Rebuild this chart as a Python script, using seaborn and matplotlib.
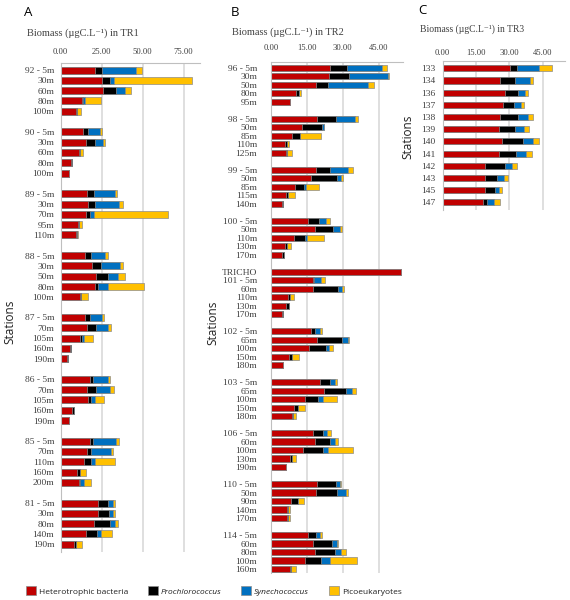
import numpy as np
import pandas as pd
import matplotlib
matplotlib.use("Agg")
import matplotlib.pyplot as plt
import seaborn as sns
from matplotlib.patches import Patch
from matplotlib.ticker import FormatStrFormatter, FixedLocator

# ---------------- DATA ----------------
# Panel A (TR1): None marks an empty row between stations
a_labels = ["92 - 5m", "30m", "60m", "80m", "100m", None,
            "90 - 5m", "30m", "60m", "80m", "100m", None,
            "89 - 5m", "30m", "70m", "95m", "110m", None,
            "88 - 5m", "30m", "50m", "80m", "100m", None,
            "87 - 5m", "70m", "105m", "160m", "190m", None,
            "86 - 5m", "70m", "105m", "160m", "190m", None,
            "85 - 5m", "70m", "110m", "160m", "200m", None,
            "81 - 5m", "30m", "80m", "140m", "190m"]
a_het = [21.3, 25.0, 25.6, 12.8, 9.3,
         13.7, 15.7, 11.0, 6.5, 5.1,
         16.3, 16.9, 15.5, 10.4, 9.6,
         15.1, 19.1, 21.8, 21.3, 11.8,
         15.2, 16.3, 11.6, 5.5, 4.1,
         18.1, 16.3, 16.9, 7.3, 5.1,
         18.1, 15.9, 14.6, 10.2, 11.0,
         22.6, 22.6, 20.5, 15.7, 8.4]
a_pro = [3.9, 5.3, 8.4, 0.8, 0.5,
         2.8, 5.5, 0.6, 0.4, 0.3,
         3.9, 4.1, 2.6, 0.8, 0.6,
         3.6, 5.7, 7.3, 1.7, 0.6,
         2.9, 5.5, 1.6, 0.6, 0.2,
         1.7, 5.5, 1.8, 1.1, 0.1,
         1.8, 2.8, 3.9, 1.8, 1.0,
         6.5, 6.7, 9.6, 6.7, 1.2]
a_syn = [20.9, 2.4, 5.6, 1.2, 0.0,
         7.7, 4.6, 0.0, 0.0, 0.0,
         12.8, 14.4, 2.3, 0.0, 0.0,
         8.6, 11.6, 6.1, 5.7, 0.0,
         7.1, 7.1, 1.1, 0.0, 0.0,
         9.1, 8.3, 2.3, 0.0, 0.0,
         14.1, 11.8, 2.7, 0.0, 2.3,
         2.6, 2.8, 3.3, 2.4, 0.0]
a_pico = [3.5, 47.6, 3.3, 9.6, 2.6,
          1.0, 1.6, 2.1, 0.0, 0.0,
          1.6, 2.4, 45.3, 1.8, 0.3,
          1.4, 1.8, 4.4, 22.2, 4.3,
          1.3, 1.8, 5.2, 0.0, 0.0,
          1.4, 2.6, 5.8, 0.0, 0.0,
          1.8, 1.2, 12.2, 3.5, 4.2,
          1.8, 1.1, 1.6, 6.5, 3.6]

# Panel B (TR2)
b_labels = ["96 - 5m", "30m", "50m", "80m", "95m", None,
            "98 - 5m", "50m", "85m", "110m", "125m", None,
            "99 - 5m", "50m", "85m", "115m", "140m", None,
            "100 - 5m", "50m", "110m", "130m", "170m", None,
            "TRICHO",
            "101 - 5m", "60m", "110m", "130m", "170m", None,
            "102 - 5m", "65m", "100m", "150m", "180m", None,
            "103 - 5m", "65m", "100m", "150m", "180m", None,
            "106 - 5m", "60m", "100m", "130m", "190m", None,
            "110 - 5m", "50m", "90m", "140m", "170m", None,
            "114 - 5m", "60m", "80m", "100m", "160m"]
b_het = [24.8, 24.2, 18.8, 10.3, 7.8,
         19.3, 13.1, 8.8, 6.0, 6.4,
         18.7, 16.7, 10.2, 6.3, 4.5,
         15.6, 18.4, 9.8, 5.9, 4.6,
         54.5,
         17.7, 17.7, 7.1, 6.4, 4.7,
         16.7, 19.2, 15.9, 7.7, 5.2,
         20.5, 22.3, 14.3, 9.7, 8.8,
         17.4, 18.4, 13.4, 7.8, 6.3,
         19.4, 18.8, 8.5, 6.7, 6.8,
         15.5, 17.4, 18.5, 14.3, 7.9]
b_pro = [7.1, 8.4, 4.9, 1.4, 0.2,
         8.0, 8.2, 3.2, 0.7, 0.3,
         6.1, 10.7, 3.7, 0.9, 0.5,
         4.5, 7.6, 4.6, 0.8, 0.8,
         0.0,
         0.2, 10.4, 1.0, 1.0, 0.3,
         1.7, 10.6, 6.9, 1.2, 0.0,
         4.2, 9.2, 5.5, 1.5, 0.5,
         4.3, 6.4, 8.3, 1.1, 0.1,
         7.8, 8.9, 2.7, 0.4, 0.4,
         3.3, 8.0, 8.2, 6.6, 0.6]
b_syn = [14.5, 16.2, 16.8, 0.0, 0.0,
         7.9, 0.8, 0.1, 0.0, 0.0,
         7.2, 2.0, 0.6, 0.0, 0.0,
         2.9, 2.7, 0.6, 0.0, 0.0,
         0.0,
         2.9, 1.7, 0.0, 0.0, 0.0,
         1.9, 2.2, 1.4, 0.0, 0.0,
         1.9, 2.2, 1.9, 0.0, 0.0,
         1.7, 2.1, 2.1, 0.0, 0.0,
         1.6, 3.5, 0.0, 0.0, 0.0,
         1.7, 2.1, 2.7, 3.6, 0.0]
b_pico = [1.9, 0.6, 2.4, 0.7, 0.0,
          1.3, 0.0, 8.7, 0.8, 2.1,
          2.1, 0.8, 5.4, 2.7, 0.2,
          1.8, 1.1, 7.1, 1.8, 0.0,
          0.0,
          1.9, 0.7, 1.5, 0.0, 0.0,
          1.0, 0.5, 1.8, 2.9, 0.0,
          1.1, 1.8, 6.0, 2.9, 1.3,
          1.5, 1.2, 10.3, 1.7, 0.0,
          0.6, 1.1, 2.7, 0.7, 0.6,
          0.8, 0.6, 1.8, 11.6, 2.1]

# Panel C (TR3)
c_labels = ["133", "134", "136", "137", "138", "139",
            "140", "141", "142", "143", "145", "147"]
c_het = [30.1, 25.6, 28.0, 27.0, 25.6, 25.2, 26.7, 25.2, 18.9, 19.2, 19.0, 18.3]
c_pro = [3.5, 6.8, 5.7, 4.9, 8.1, 7.2, 9.4, 7.8, 9.3, 5.2, 4.5, 1.8]
c_syn = [9.9, 6.9, 3.5, 3.5, 4.5, 4.0, 4.7, 4.3, 3.0, 3.0, 2.0, 3.0]
c_pico = [5.8, 1.5, 1.2, 1.3, 2.3, 2.4, 2.7, 2.7, 2.4, 2.0, 1.2, 2.7]

group_names = ["Heterotrophic bacteria", "Prochlorococcus", "Synechococcus", "Picoeukaryotes"]

# ---------------- STYLE ----------------
RED, BLACK, BLUE, YELLOW = "#c00000", "#000000", "#0070c0", "#ffc000"
EDGE = "#8c8c8c"
GRID = "#d9d9d9"
TXT = "#404040"
SERIF = ["Liberation Serif", "DejaVu Serif"]
SANS = ["Open Sans", "DejaVu Sans"]

sns.set_style("white")
plt.rcParams["font.family"] = SANS

W, H = 570, 600
fig = plt.figure(figsize=(5.7, 6.0), dpi=100)


def px_axes(left, top, right, bottom):
    return fig.add_axes([left / W, 1 - bottom / H, (right - left) / W, (bottom - top) / H])


def panel(ax, labels, het, pro, syn, pico, width, xmax, xticks, ylim, ylab_pad, xlab_pad,
          stations_xy):
    keys = [f"r{i}" for i in range(len(labels))]
    data_keys = [k for k, l in zip(keys, labels) if l is not None]
    df = pd.DataFrame({"key": data_keys, "het": het, "pro": pro, "syn": syn, "pico": pico})
    df["c1"] = df["het"]
    df["c2"] = df["c1"] + df["pro"]
    df["c3"] = df["c2"] + df["syn"]
    df["c4"] = df["c3"] + df["pico"]
    for col, color in [("c4", YELLOW), ("c3", BLUE), ("c2", BLACK), ("c1", RED)]:
        sns.barplot(data=df, x=col, y="key", order=keys, orient="h", color=color,
                    saturation=1, width=width, edgecolor=EDGE, linewidth=0.5,
                    errorbar=None, ax=ax)
    ax.set_xlim(0, xmax)
    ax.set_ylim(*ylim)
    ax.xaxis.tick_top()
    ax.set_xticks(xticks)
    ax.xaxis.set_major_formatter(FormatStrFormatter("%.2f"))
    ax.set_yticks(range(len(keys)))
    ax.set_yticklabels([l if l is not None else "" for l in labels])
    blanks = [i for i, l in enumerate(labels) if l is None]
    ax.yaxis.set_minor_locator(FixedLocator(blanks))
    ax.tick_params(axis="y", which="major", length=0, pad=ylab_pad, labelsize=6.8,
                   labelcolor=TXT)
    ax.tick_params(axis="y", which="minor", length=3, width=0.6, color="#bfbfbf", left=True)
    ax.tick_params(axis="x", length=0, pad=xlab_pad, labelsize=6.2, labelcolor=TXT)
    for t in ax.get_xticklabels() + ax.get_yticklabels():
        t.set_fontfamily(SERIF)
    ax.grid(axis="x", color=GRID, linewidth=1.2)
    ax.grid(axis="y", visible=False)
    ax.set_axisbelow(True)
    for s in ["right", "bottom"]:
        ax.spines[s].set_visible(False)
    for s in ["top", "left"]:
        ax.spines[s].set_color("#bfbfbf")
        ax.spines[s].set_linewidth(0.8)
    ax.set_xlabel("")
    ax.set_ylabel("Stations", fontsize=8.5, color="#202020", family=SANS)
    ax.yaxis.set_label_coords(*stations_xy)


axA = px_axes(60.5, 63, 200, 551.5)
panel(axA, a_labels, a_het, a_pro, a_syn, a_pico, 0.68, 85, [0, 25, 50, 75],
      (46.7, -0.68), 4.5, 5, (-0.315, 0.47))

axB = px_axes(271, 62, 402.6, 573)
panel(axB, b_labels, b_het, b_pro, b_syn, b_pico, 0.72, 55, [0, 15, 30, 45],
      (59.47, -0.67), 10, 7, (-0.39, 0.49))

axC = px_axes(442.7, 61, 564.9, 210)
panel(axC, c_labels, c_het, c_pro, c_syn, c_pico, 0.5, 55, [0, 15, 30, 45],
      (11.63, -0.6), 5, 3, (-0.232, 0.49))

# panel letters and titles
for letter, x, y in [("A", 28, 12), ("B", 235, 12), ("C", 422, 11)]:
    fig.text(x / W, 1 - y / H, letter, ha="center", va="center", fontsize=9.5,
             family=SANS, color="#000000")
for tr, x, y, fs in [("TR1", 26.7, 33, 7.5), ("TR2", 231.7, 32, 7.5), ("TR3", 420, 29.5, 6.9)]:
    fig.text(x / W, 1 - y / H, f"Biomass (\u00b5gC.L\u207b\u00b9) in {tr}", ha="left",
             va="center", fontsize=fs, family=SERIF, color=TXT)

# legend
handles = [Patch(facecolor=c, edgecolor=EDGE, linewidth=0.5)
           for c in [RED, BLACK, BLUE, YELLOW]]
leg = fig.legend(handles, group_names, loc="center left",
                 bbox_to_anchor=(26 / W, 1 - 591 / H), ncol=4, frameon=False,
                 fontsize=6, handlelength=1.25, handleheight=1.25, handletextpad=0.35,
                 columnspacing=2.3, borderaxespad=0, borderpad=0)
for i, t in enumerate(leg.get_texts()):
    t.set_color("#202020")
    if i in (1, 2):
        t.set_fontstyle("italic")

fig.savefig("out.png", dpi=100)
